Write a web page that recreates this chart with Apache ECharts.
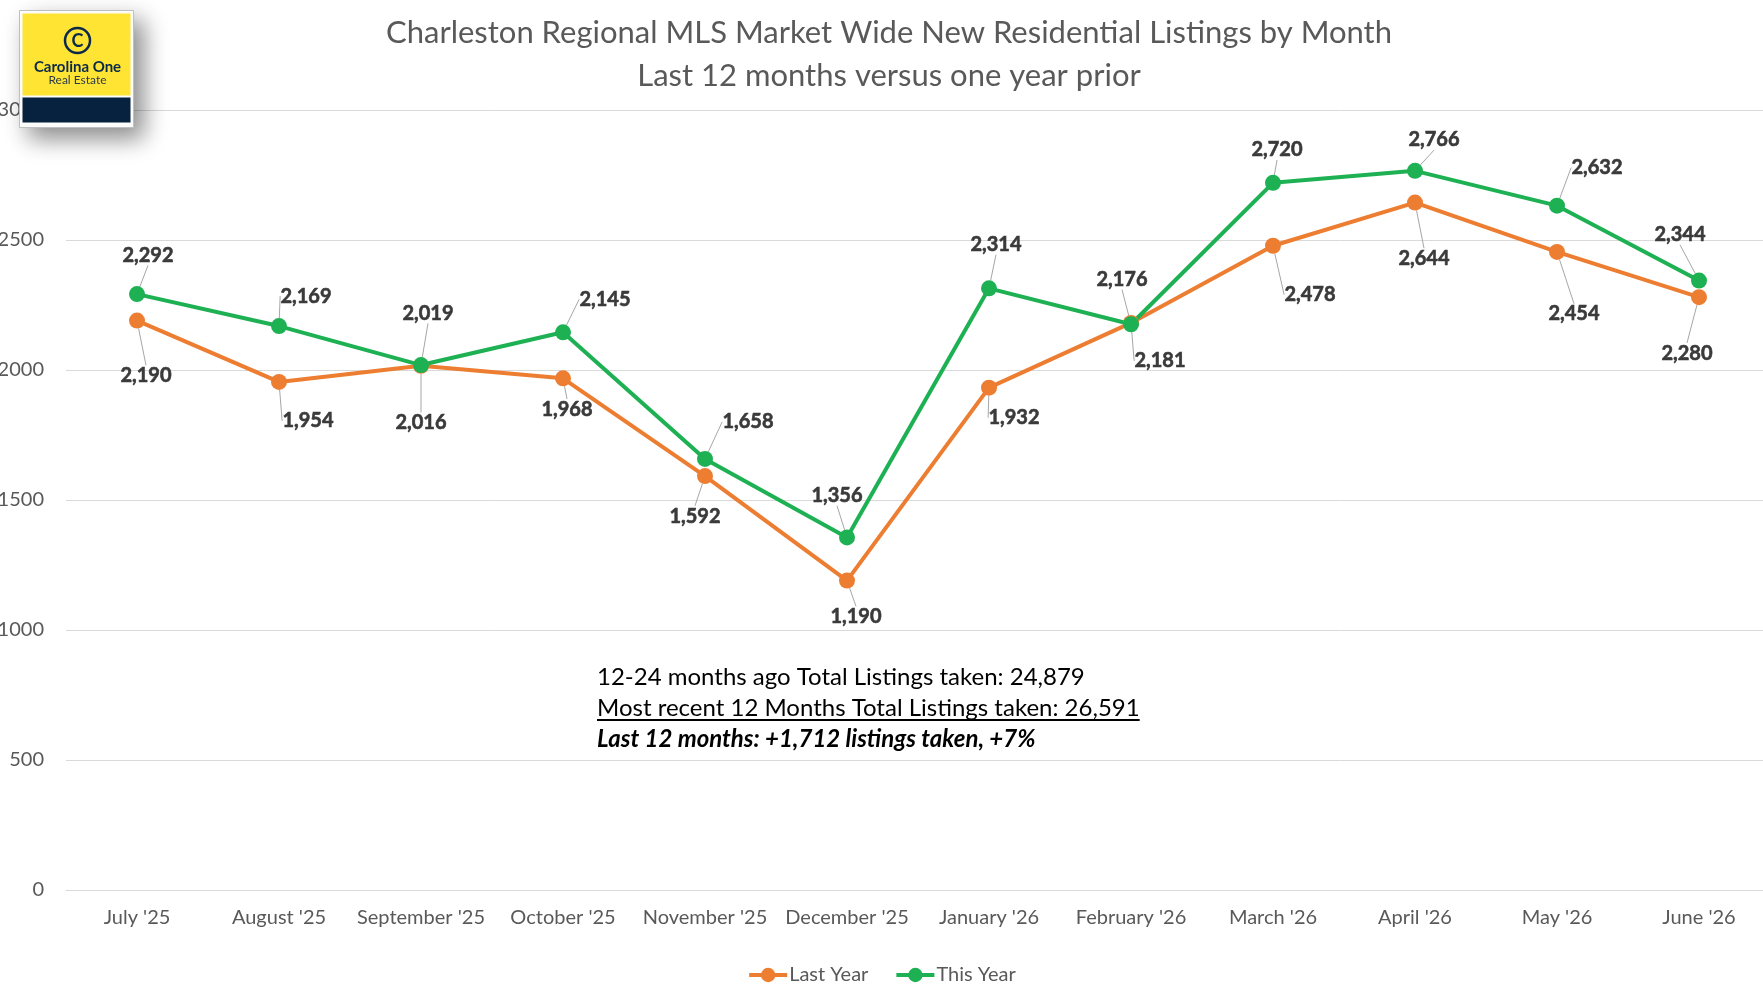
<!DOCTYPE html>
<html lang="en">
<head>
    <meta charset="UTF-8">
    <title>New Residential Listings by Month</title>
    <style>
        html, body { margin: 0; padding: 0; background: #fff; }
        #chart { width: 1763px; height: 988px; }
    </style>
</head>
<body>
    <div id="chart"></div>
    <script src="https://cdn.jsdelivr.net/npm/echarts@6/dist/echarts.min.js"></script>
    <script>
        // data
        const months = ["July '25", "August '25", "September '25", "October '25", "November '25", "December '25",
            "January '26", "February '26", "March '26", "April '26", "May '26", "June '26"];
        const lastYear = [2190, 1954, 2016, 1968, 1592, 1190, 1932, 2181, 2478, 2644, 2454, 2280];
        const thisYear = [2292, 2169, 2019, 2145, 1658, 1356, 2314, 2176, 2720, 2766, 2632, 2344];
        const yTicks = { min: 0, max: 3000, step: 500 };

        const summary = [
            '12-24 months ago Total Listings taken: 24,879',
            'Most recent 12 Months Total Listings taken: 26,591',
            'Last 12 months: +1,712 listings taken, +7%'
        ];

        // where each data label sits relative to its point (px)
        const lastOffsets = [[9, 55], [29, 39], [0, 57], [4, 31], [-10, 40], [9, 36],
            [25, 30], [29, 38], [37, 49], [9, 56], [17, 62], [-12, 56]];
        const thisOffsets = [[11, -39], [27, -30], [7, -52], [42, -33], [43, -37], [-10, -42],
            [7, -44], [-9, -45], [4, -33], [19, -31], [40, -38], [-19, -46]];

        const FONT = 'Lato';
        const ORANGE = '#ed7d31';
        const GREEN = '#1db153';

        const chart = echarts.init(document.getElementById('chart'));

        // measure underline length
        const ctx = document.createElement('canvas').getContext('2d');
        ctx.font = '24px ' + FONT;
        const underlineW = ctx.measureText(summary[1]).width;

        function seriesOf(name, data, color, offsets) {
            return {
                name: name,
                type: 'line',
                data: data,
                symbol: 'circle',
                symbolSize: 16,
                lineStyle: { width: 4, color: color },
                itemStyle: { color: color },
                label: {
                    show: true,
                    position: 'inside',
                    fontFamily: FONT,
                    fontSize: 20,
                    fontWeight: 'bold',
                    color: '#3a3a3a',
                    textBorderColor: '#3a3a3a',
                    textBorderWidth: 0.6,
                    formatter: p => p.value.toLocaleString('en-US')
                },
                labelLine: {
                    show: true,
                    lineStyle: { color: '#a6a6a6', width: 1 }
                },
                labelLayout: p => ({ dx: offsets[p.dataIndex][0], dy: offsets[p.dataIndex][1] }),
                emphasis: { disabled: true },
                animation: false
            };
        }

        const logoZ = 100;
        const logoParts = [
            {
                type: 'rect', shape: { x: 0, y: 0, width: 114, height: 117 },
                style: {
                    fill: '#fff', stroke: '#bfbfbf', lineWidth: 1,
                    shadowBlur: 22, shadowOffsetX: 9, shadowOffsetY: 10,
                    shadowColor: 'rgba(0,0,0,0.45)'
                }
            },
            { type: 'rect', shape: { x: 3, y: 3, width: 108, height: 82 }, style: { fill: '#ffe433' } },
            { type: 'rect', shape: { x: 3, y: 87, width: 108, height: 25 }, style: { fill: '#06223e' } },
            {
                type: 'circle', shape: { cx: 58, cy: 30, r: 12.5 },
                style: { fill: 'none', stroke: '#0b2a4a', lineWidth: 2.5 }
            },
            {
                type: 'text', x: 58, y: 31,
                style: {
                    text: 'C', font: 'bold 18px ' + FONT, fill: '#0b2a4a',
                    align: 'center', verticalAlign: 'middle'
                }
            },
            {
                type: 'text', x: 58, y: 57,
                style: {
                    text: 'Carolina One', font: 'bold 15px ' + FONT, fill: '#0b2a4a',
                    align: 'center', verticalAlign: 'middle'
                }
            },
            {
                type: 'text', x: 58, y: 70,
                style: {
                    text: 'Real Estate', font: '12px ' + FONT, fill: '#2b3a4a',
                    align: 'center', verticalAlign: 'middle'
                }
            }
        ].map(el => Object.assign(el, { z: logoZ }));

        const option = {
            backgroundColor: '#fff',
            animation: false,
            title: {
                text: 'Charleston Regional MLS Market Wide New Residential Listings by Month\nLast 12 months versus one year prior',
                left: 884,
                textAlign: 'center',
                top: 6,
                textStyle: {
                    fontFamily: FONT,
                    fontSize: 31,
                    fontWeight: 'normal',
                    color: '#595959',
                    lineHeight: 43
                }
            },
            legend: {
                data: ['Last Year', 'This Year'],
                left: 'center',
                top: 960,
                itemWidth: 38,
                itemHeight: 18,
                itemGap: 26,
                lineStyle: { width: 4 },
                textStyle: { fontFamily: FONT, fontSize: 20, color: '#595959', padding: [0, 0, 0, -3] }
            },
            grid: { left: 66, top: 110, width: 1704, height: 780, outerBoundsMode: 'none', containLabel: false },
            xAxis: {
                type: 'category',
                data: months,
                boundaryGap: true,
                axisLine: { lineStyle: { color: '#d9d9d9', width: 1 } },
                axisTick: { show: false },
                axisLabel: {
                    fontFamily: FONT,
                    fontSize: 20,
                    color: '#595959',
                    margin: 18,
                    interval: 0
                }
            },
            yAxis: {
                type: 'value',
                min: yTicks.min,
                max: yTicks.max,
                interval: yTicks.step,
                axisLine: { show: false },
                axisTick: { show: false },
                splitLine: { lineStyle: { color: '#d9d9d9', width: 1 } },
                axisLabel: {
                    fontFamily: FONT,
                    fontSize: 20,
                    color: '#595959',
                    margin: 22,
                    formatter: v => String(v)
                }
            },
            series: [
                seriesOf('Last Year', lastYear, ORANGE, lastOffsets),
                seriesOf('This Year', thisYear, GREEN, thisOffsets)
            ],
            graphic: [
                {
                    type: 'text', left: 597, top: 665, z: 50,
                    style: { text: summary[0], font: '24px ' + FONT, fill: '#000' }
                },
                {
                    type: 'text', left: 597, top: 696, z: 50,
                    style: { text: summary[1], font: '24px ' + FONT, fill: '#000' }
                },
                {
                    type: 'rect', z: 50,
                    shape: { x: 597, y: 719, width: underlineW, height: 2 },
                    style: { fill: '#000' }
                },
                {
                    type: 'text', left: 597, top: 727, z: 50,
                    style: { text: summary[2], font: 'italic bold 24px ' + FONT, fill: '#000' }
                },
                // logo badge
                { type: 'group', left: 19, top: 10, z: logoZ, children: logoParts }
            ]
        };

        chart.setOption(option);
    </script>
</body>
</html>
